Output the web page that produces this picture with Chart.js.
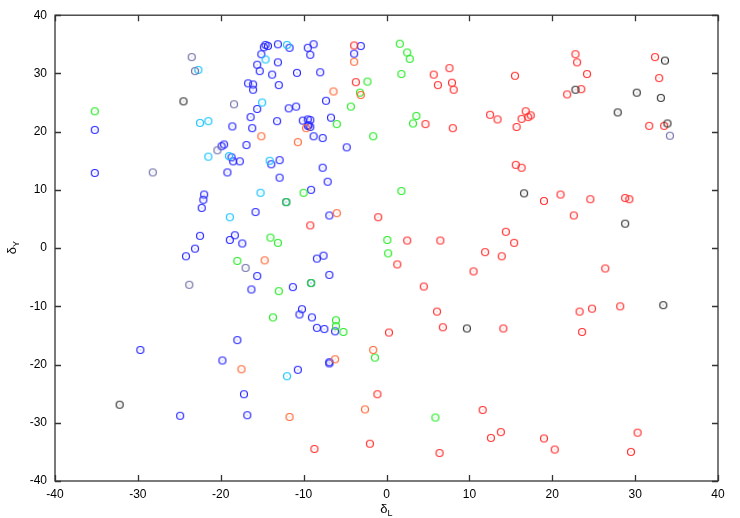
<!DOCTYPE html>
<html>
<head>
<meta charset="utf-8">
<script src="https://cdn.jsdelivr.net/npm/chart.js@4/dist/chart.umd.min.js"></script>
<style>
  html, body { margin: 0; padding: 0; background: #fff; }
  canvas { display: block; }
</style>
</head>
<body>
<canvas id="grafico" width="740" height="518"></canvas>
<script>
// ticks
const xTicks = [-40, -30, -20, -10, 0, 10, 20, 30, 40];
const yTicks = [-40, -30, -20, -10, 0, 10, 20, 30, 40];

// pontos [deltaL, deltaY] por cor
const azul = [
  [-35.2, 20.3], [-35.2, 12.9], [-18.6, 20.9], [-16.4, 22.5], [-16.2, 20.6], [-15.6, 23.9],
  [-13.2, 21.8], [-16.9, 17.7], [-19.6, 17.8], [-19.9, 17.5], [-18.7, 15.6], [-18.5, 14.9],
  [-17.7, 14.9], [-13.9, 14.4], [-12.9, 15.1], [-19.2, 13.0], [-14.6, 34.9], [-14.8, 34.5],
  [-14.3, 34.7], [-13.1, 35.0], [-15.1, 33.3], [-13.1, 31.9], [-15.6, 31.5], [-15.3, 30.4],
  [-13.8, 29.8], [-13.0, 28.0], [-16.7, 28.3], [-16.1, 28.1], [-16.1, 27.2], [-11.7, 34.4],
  [-9.5, 34.4], [-8.8, 35.0], [-9.2, 33.2], [-10.8, 30.1], [-8.0, 30.2], [-7.3, 25.3],
  [-11.8, 24.0], [-10.9, 24.3], [-10.1, 21.9], [-9.5, 22.1], [-9.2, 22.0], [-9.5, 21.0],
  [-9.4, 21.1], [-9.2, 20.8], [-6.7, 22.4], [-8.8, 19.2], [-7.7, 18.9], [-4.8, 17.3],
  [-7.7, 13.8], [-3.1, 34.7], [-3.9, 33.4], [-12.9, 12.1], [-22.0, 9.2], [-22.1, 8.3],
  [-22.3, 6.9], [-12.1, 7.9], [-15.8, 6.2], [-22.5, 2.1], [-18.9, 1.4], [-18.3, 2.2],
  [-17.4, 0.8], [-23.1, -0.1], [-24.2, -1.4], [-15.6, -4.8], [-16.3, -7.1], [-7.1, 11.4],
  [-9.1, 10.0], [-6.9, 5.6], [-8.4, -1.8], [-7.6, -1.3], [-6.9, -4.6], [-9.1, -6.0],
  [-11.3, -6.7], [-10.2, -10.5], [-10.5, -11.4], [-9.0, -11.9], [-8.4, -13.7], [-7.5, -13.9],
  [-6.2, -14.3], [-29.7, -17.5], [-18.0, -15.8], [-19.8, -19.3], [-17.2, -25.1], [-16.8, -28.7],
  [-24.9, -28.8], [-6.9, -19.6], [-6.9, -19.8], [-10.7, -20.9]
];
const vermelho = [
  [-3.9, 34.8], [-3.7, 28.5], [4.7, 21.3], [5.7, 29.8], [6.2, 28.0], [7.6, 30.9],
  [7.9, 28.4], [8.1, 27.2], [8.0, 20.6], [12.5, 22.9], [13.4, 22.1], [15.5, 29.6],
  [16.8, 23.5], [16.3, 22.2], [17.1, 22.5], [17.4, 22.8], [15.7, 20.8], [15.6, 14.3],
  [16.3, 13.8], [22.8, 33.3], [23.0, 31.9], [24.2, 29.9], [23.5, 27.3], [21.8, 26.4],
  [32.4, 32.8], [32.9, 29.2], [31.7, 21.0], [33.5, 21.0], [-9.2, 3.9], [-1.0, 5.3],
  [2.5, 1.3], [1.3, -2.8], [6.5, 1.3], [4.5, -6.6], [11.9, -0.7], [13.9, -1.4],
  [10.5, -4.0], [6.1, -10.9], [6.8, -13.6], [0.3, -14.5], [14.1, -13.8], [14.4, 2.8],
  [19.0, 8.1], [21.0, 9.2], [24.6, 8.4], [22.6, 5.6], [28.8, 8.6], [29.3, 8.4],
  [15.4, 0.9], [26.4, -3.5], [23.3, -10.9], [24.8, -10.4], [28.2, -10.0], [23.6, -14.4],
  [-1.1, -25.1], [-2.0, -33.6], [-8.7, -34.5], [6.4, -35.2], [11.6, -27.8], [12.6, -32.6],
  [13.8, -31.6], [19.0, -32.7], [20.3, -34.6], [30.3, -31.7], [29.5, -35.0]
];
const verde = [
  [-35.2, 23.5], [-6.0, 21.3], [-2.3, 28.6], [-3.2, 26.7], [-4.3, 24.3], [-1.6, 19.2],
  [1.6, 35.1], [2.5, 33.6], [2.8, 32.5], [1.8, 29.9], [3.6, 22.7], [3.2, 21.4],
  [-14.0, 1.8], [-13.1, 0.9], [-18.0, -2.2], [-13.0, -7.4], [-13.7, -11.9], [-10.0, 9.5],
  [-12.1, 7.9], [-9.1, -6.0], [-6.1, -12.4], [-6.1, -13.4], [-5.2, -14.4], [1.8, 9.8],
  [0.1, 1.4], [0.2, -0.9], [-1.4, -18.8], [5.9, -29.1]
];
const ciano = [
  [-22.7, 30.6], [-22.5, 21.5], [-21.5, 21.8], [-15.0, 25.0], [-21.5, 15.7], [-19.0, 15.8],
  [-14.1, 15.0], [-14.6, 32.4], [-12.0, 34.9], [-15.2, 9.5], [-18.9, 5.3], [-12.0, -22.0]
];
const laranja = [
  [-15.1, 19.2], [-6.4, 26.9], [-9.7, 20.6], [-10.7, 18.2], [-3.9, 32.0], [-3.1, 26.3],
  [-14.7, -2.1], [-6.0, 6.0], [-17.5, -20.8], [-1.6, -17.5], [-6.2, -19.1], [-2.6, -27.7],
  [-11.7, -29.0]
];
const preto = [
  [-24.5, 25.2], [22.8, 27.2], [27.9, 23.3], [30.2, 26.7], [33.6, 32.2], [33.1, 25.8],
  [33.9, 21.4], [16.6, 9.4], [28.8, 4.2], [33.4, -9.8], [9.7, -13.8], [-32.2, -26.9]
];
const cinza = [
  [-23.5, 32.8], [-23.1, 30.4], [-18.4, 24.7], [-20.4, 16.8], [-28.2, 13.0], [34.2, 19.3],
  [-17.0, -3.4], [-23.8, -6.3]
];

const fonte = 'Liberation Sans, Arial, sans-serif';

// circulo com ponto no centro (estilo gnuplot)
function marcador(cor) {
  const c = document.createElement('canvas');
  c.width = 10;
  c.height = 10;
  const g = c.getContext('2d');
  g.strokeStyle = cor;
  g.lineWidth = 1.2;
  g.beginPath();
  g.arc(5, 5, 3.5, 0, Math.PI * 2);
  g.stroke();
  g.fillStyle = cor;
  g.globalAlpha = 0.6;
  g.fillRect(4.5, 4.5, 1, 1);
  return c;
}

function serie(pontos, cor) {
  return {
    data: pontos.map(([x, y]) => ({ x, y })),
    pointStyle: marcador(cor),
    pointRadius: 4,
    borderColor: cor,
    backgroundColor: cor
  };
}

const moldura = {
  id: 'moldura',
  afterDraw(chart) {
    const { ctx, chartArea: a, scales: { x, y } } = chart;
    ctx.save();
    ctx.strokeStyle = '#333';
    ctx.lineWidth = 1.3;
    ctx.strokeRect(a.left, a.top, a.right - a.left, a.bottom - a.top);
    ctx.beginPath();
    xTicks.forEach(v => {
      const px = Math.round(x.getPixelForValue(v)) + 0.5;
      ctx.moveTo(px, a.bottom); ctx.lineTo(px, a.bottom - 6);
      ctx.moveTo(px, a.top); ctx.lineTo(px, a.top + 6);
    });
    yTicks.forEach(v => {
      const py = Math.round(y.getPixelForValue(v)) + 0.5;
      ctx.moveTo(a.left, py); ctx.lineTo(a.left + 6, py);
      ctx.moveTo(a.right, py); ctx.lineTo(a.right - 6, py);
    });
    ctx.stroke();

    // titulos dos eixos
    ctx.fillStyle = '#000';
    ctx.textBaseline = 'alphabetic';
    const cx = (a.left + a.right) / 2;
    ctx.font = '13px ' + fonte;
    ctx.textAlign = 'right';
    ctx.fillText('δ', cx + 1, 513);
    ctx.font = '9px ' + fonte;
    ctx.textAlign = 'left';
    ctx.fillText('L', cx + 1, 516);

    ctx.translate(16, (a.top + a.bottom) / 2);
    ctx.rotate(-Math.PI / 2);
    ctx.font = '13px ' + fonte;
    ctx.textAlign = 'right';
    ctx.fillText('δ', 1, 0);
    ctx.font = '9px ' + fonte;
    ctx.textAlign = 'left';
    ctx.fillText('Y', 1, 3);
    ctx.restore();
  }
};

new Chart(document.getElementById('grafico'), {
  type: 'scatter',
  data: {
    datasets: [
      serie(cinza, '#7070a8'),
      serie(preto, '#333333'),
      serie(ciano, '#18c4ff'),
      serie(laranja, '#ff6a38'),
      serie(verde, '#28ea28'),
      serie(vermelho, '#ff3030'),
      serie(azul, '#2828ff')
    ]
  },
  options: {
    responsive: false,
    animation: false,
    events: [],
    layout: { padding: { top: 14, right: 22, left: 0, bottom: 0 } },
    plugins: {
      legend: { display: false },
      tooltip: { enabled: false }
    },
    scales: {
      x: {
        type: 'linear',
        min: -40,
        max: 40,
        afterBuildTicks: s => { s.ticks = xTicks.map(v => ({ value: v })); },
        afterFit: s => { s.height = 37; },
        grid: { display: false, drawTicks: false },
        border: { display: false },
        ticks: { padding: 6, color: '#000', font: { family: fonte, size: 12 } }
      },
      y: {
        type: 'linear',
        min: -40,
        max: 40,
        afterBuildTicks: s => { s.ticks = yTicks.map(v => ({ value: v })); },
        afterFit: s => { s.width = 55; },
        grid: { display: false, drawTicks: false },
        border: { display: false },
        ticks: { padding: 8, color: '#000', font: { family: fonte, size: 12 } }
      }
    }
  },
  plugins: [moldura]
});
</script>
</body>
</html>
